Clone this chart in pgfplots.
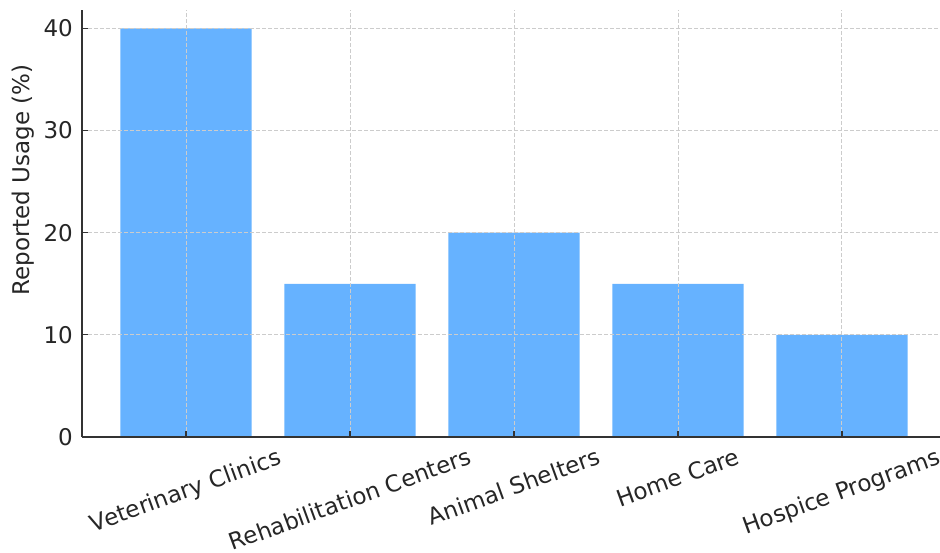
\documentclass[border=0pt]{standalone}
\usepackage{pgfplots}
\pgfplotsset{compat=1.18}
\usepackage{graphicx}
\usepackage{fontspec}
\setmainfont{DejaVu Sans}
\definecolor{barblue}{HTML}{66B2FF}
\definecolor{txt}{HTML}{262626}
\begin{document}
\begin{tikzpicture}
\begin{axis}[
    scale only axis,
    width=858bp, height=427bp,
    xmin=-0.634, xmax=4.598,
    ymin=0, ymax=41.8,
    axis on top,
    axis lines=left,
    axis line style={-, line width=1.6bp, color=black!80},
    tick align=inside,
    major tick length=6bp,
    tick style={line width=1.3bp, color=black!80},
    grid=major,
    major grid style={dash pattern=on 4bp off 2bp, line width=0.9bp, color=black!20},
    xtick={0,1,2,3,4},
    xticklabels={
        \rotatebox{20}{Veterinary Clinics},
        \rotatebox{20}{Rehabilitation Centers},
        \rotatebox{20}{Animal Shelters},
        \rotatebox{20}{Home Care},
        \rotatebox{20}{Hospice Programs}},
    ytick={0,10,20,30,40},
    ticklabel style={font=\fontsize{23bp}{27bp}\selectfont, text=txt},
    xticklabel style={anchor=north, inner sep=0pt, yshift=-10bp},
    yticklabel style={anchor=east, inner sep=0pt, xshift=-9bp,
        /pgf/number format/assume math mode=true},
    ylabel={Reported Usage (\%)},
    y label style={at={(axis description cs:-0.0688,0.602)}, anchor=center,
        font=\fontsize{23bp}{27bp}\selectfont, text=txt},
]
\addplot[ybar, bar width=0.8, fill=barblue, draw=none]
    coordinates {(0,40) (1,15) (2,20) (3,15) (4,10)};
\end{axis}
\pgfresetboundingbox
\path[use as bounding box] (-82bp,-116bp) rectangle (858bp,437bp);
\end{tikzpicture}
\end{document}
